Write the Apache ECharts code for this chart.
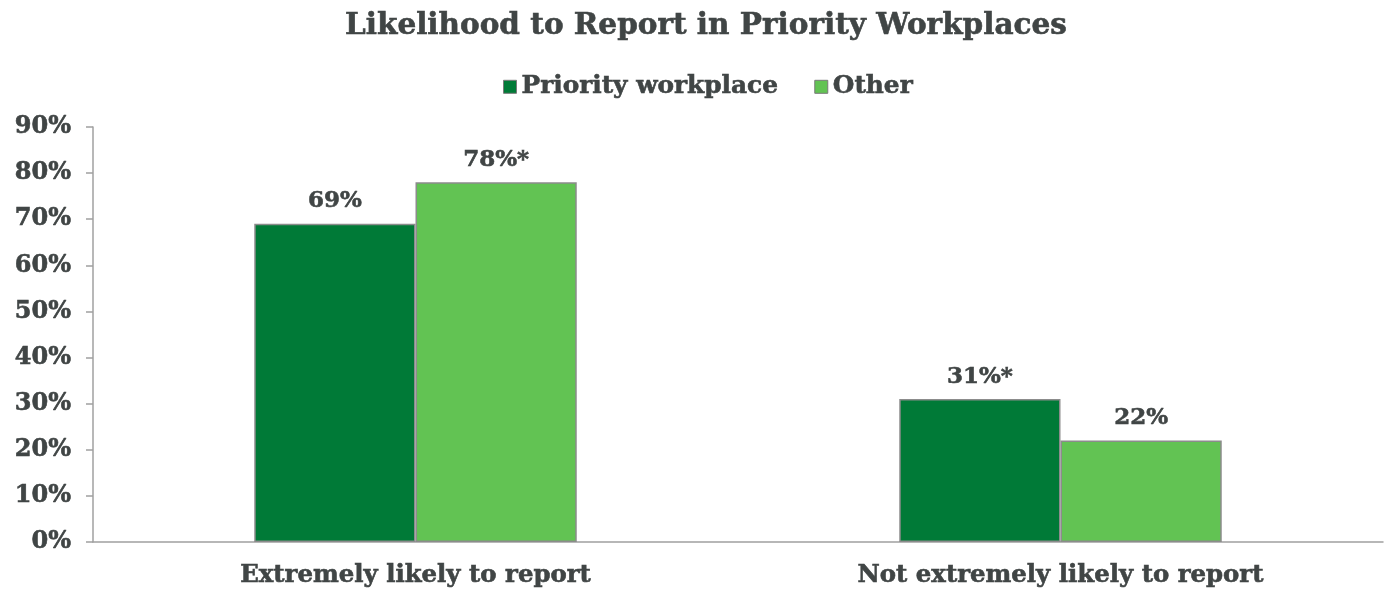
<!DOCTYPE html>
<html>
<head>
<meta charset="utf-8">
<script src="https://cdn.jsdelivr.net/npm/echarts@6/dist/echarts.min.js"></script>
<style>
  html, body { margin: 0; padding: 0; background: #ffffff; }
  #chart { width: 1386px; height: 590px; }
</style>
</head>
<body>
<div id="chart"></div>
<script>
const categories = ['Extremely likely to report', 'Not extremely likely to report'];
const priorityValues = [69, 31];
const otherValues = [78, 22];
const priorityLabels = ['69%', '31%*'];
const otherLabels = ['78%*', '22%'];
const yTicks = [0, 10, 20, 30, 40, 50, 60, 70, 80, 90];

const FONT = '"DejaVu Serif", serif';
const TEXT = '#404545';
// a thin outline in the text colour gives the heavy bold look
const heavy = { textBorderColor: TEXT, textBorderWidth: 0.6 };

const chart = echarts.init(document.getElementById('chart'), null, { renderer: 'canvas' });

function barSeries(name, values, labels, color) {
  return {
    name: name,
    type: 'bar',
    data: values,
    barWidth: '25%',
    barGap: '0%',
    itemStyle: { color: color, borderColor: '#8c8c8c', borderWidth: 1.5 },
    label: Object.assign({
      show: true,
      position: 'top',
      distance: 11,
      formatter: (p) => labels[p.dataIndex],
      fontFamily: FONT,
      fontWeight: 'bold',
      fontSize: 23,
      color: TEXT
    }, heavy)
  };
}

chart.setOption({
  animation: false,
  title: {
    text: 'Likelihood to Report in Priority Workplaces',
    left: 340,
    top: 6,
    textStyle: Object.assign({ fontFamily: FONT, fontWeight: 'bold', fontSize: 29.5, color: TEXT }, heavy)
  },
  legend: {
    top: 69,
    left: 498,
    itemWidth: 13,
    itemHeight: 13,
    itemGap: 36,
    icon: 'rect',
    itemStyle: { borderColor: '#7a7a7a', borderWidth: 1 },
    textStyle: Object.assign({ fontFamily: FONT, fontWeight: 'bold', fontSize: 24.8, color: TEXT, padding: [0, 0, 0, 0] }, heavy),
    data: ['Priority workplace', 'Other']
  },
  grid: { left: 93, right: 3, top: 127, bottom: 48, containLabel: false },
  xAxis: {
    type: 'category',
    data: categories,
    axisLine: { lineStyle: { color: '#a0a0a0', width: 1.5 } },
    axisTick: { show: false },
    axisLabel: Object.assign({ fontFamily: FONT, fontWeight: 'bold', fontSize: 24.4, color: TEXT, margin: 22 }, heavy)
  },
  yAxis: {
    type: 'value',
    min: yTicks[0],
    max: yTicks[yTicks.length - 1],
    interval: 10,
    axisLine: { show: true, lineStyle: { color: '#a0a0a0', width: 1.5 } },
    axisTick: { show: true, inside: false, length: 7, lineStyle: { color: '#a0a0a0', width: 1.5 } },
    splitLine: { show: false },
    axisLabel: Object.assign({
      fontFamily: FONT, fontWeight: 'bold', fontSize: 24, color: TEXT, margin: 22,
      formatter: (v) => v + '%'
    }, heavy)
  },
  series: [
    barSeries('Priority workplace', priorityValues, priorityLabels, '#007a37'),
    barSeries('Other', otherValues, otherLabels, '#62c353')
  ]
});
</script>
</body>
</html>
